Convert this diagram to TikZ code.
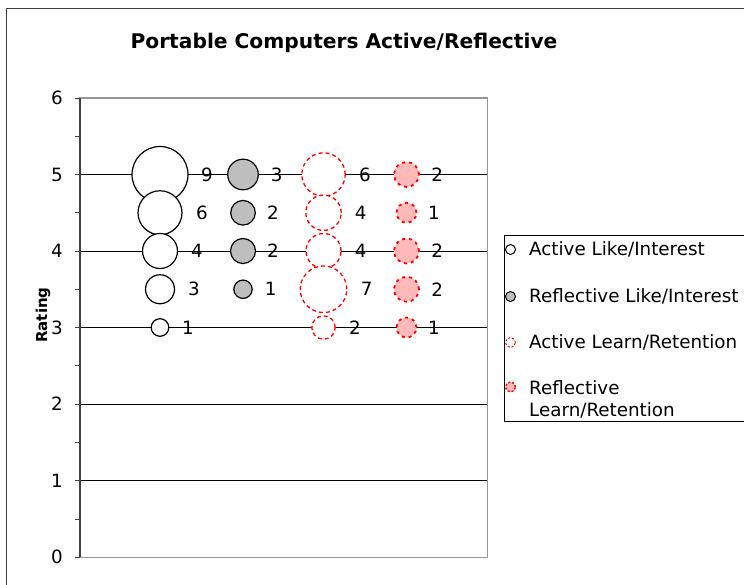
\documentclass[tikz,border=0pt]{standalone}
\usepackage{fontspec}
\setmainfont{DejaVu Sans}
\definecolor{framec}{RGB}{60,60,60}
\definecolor{plotgray}{RGB}{150,150,150}
\definecolor{bubgray}{RGB}{190,190,190}
\definecolor{bubpink}{RGB}{255,185,185}
\definecolor{bubred}{RGB}{255,0,0}
\begin{document}
\begin{tikzpicture}[x=1pt,y=-1pt,
  lab/.style={font=\fontsize{18.3}{22}\selectfont, inner sep=0pt},
  alb/.style={circle, draw=black, line width=1.2pt, fill=white, inner sep=0pt},
  rlb/.style={circle, draw=black, line width=1.2pt, fill=bubgray, inner sep=0pt},
  alrb/.style={circle, draw=bubred, line width=1.3pt, dash pattern=on 4pt off 3pt, fill=white, inner sep=0pt},
  rlrb/.style={circle, draw=bubred, line width=1.8pt, dash pattern=on 3pt off 4pt, fill=bubpink, inner sep=0pt},
  grid/.style={draw=black, line width=1pt}]
\useasboundingbox (0,0) rectangle (744,584);
% outer frame
\draw[framec, line width=1.6pt] (6.5,8.5) rectangle (800,700);
% title
\node[font=\bfseries\fontsize{20.2}{24}\selectfont, inner sep=0pt] (title) at (344,43) {Portable Computers Active/Reflective};
% plot area
\draw[plotgray, line width=1.2pt] (80,98) rectangle (487.3,557.3);
\foreach \v in {1,...,5}
  \draw[grid] (80,{557.3-76.55*\v}) -- (487.3,{557.3-76.55*\v});
\draw[black!75, line width=1.3pt] (80,98) -- (80,557.3);
\foreach \i in {0,...,12}
  \draw[black!75, line width=1pt] (74.5,{557.3-38.275*\i}) -- (80,{557.3-38.275*\i});
\foreach \v in {0,...,6}
  \node[lab, anchor=east] (tick\v) at (63,{557.3-76.55*\v}) {\v};
\node[font=\bfseries\fontsize{15}{18}\selectfont, rotate=90, inner sep=0pt] (ytitle) at (43,315) {Rating};
% Active Like/Interest
\foreach \n/\y/\r/\v/\lx in {a/174.5/28/9/207, b/212.75/22/6/202, c/251/17.5/4/197, d/289.25/14.5/3/194, e/327.5/8.8/1/188}{
  \node[alb, minimum size={2*\r*1pt}] (al\n) at (160,\y) {};
  \node[lab] (all\n) at (\lx,\y) {\v};
}
% Reflective Like/Interest
\foreach \n/\y/\r/\v/\lx in {a/174.5/15.3/3/276.7, b/212.75/12.3/2/273, c/251/12.5/2/273, d/289.25/9.2/1/270.7}{
  \node[rlb, minimum size={2*\r*1pt}] (rl\n) at (243,\y) {};
  \node[lab] (rll\n) at (\lx,\y) {\v};
}
% Active Learn/Retention
\foreach \n/\y/\r/\v/\lx in {a/174.5/21.7/6/365, b/212.75/17.7/4/360.7, c/251/17.5/4/360.7, d/289.25/23.3/7/366.7, e/327.5/11.7/2/355}{
  \node[alrb, minimum size={2*\r*1pt}] (alr\n) at (323.5,\y) {};
  \node[lab] (alrl\n) at (\lx,\y) {\v};
}
% Reflective Learn/Retention
\foreach \n/\y/\r/\v/\lx in {a/174.5/12.5/2/437.3, b/212.75/10/1/434, c/251/12.5/2/437.3, d/289.25/12.5/2/437.3, e/327.5/10/1/434}{
  \node[rlrb, minimum size={2*\r*1pt}] (rlr\n) at (406.5,\y) {};
  \node[lab] (rlrl\n) at (\lx,\y) {\v};
}
% legend
\draw[black, line width=1pt] (504,235) rectangle (800,421.7);
\node[alb, line width=1pt, minimum size=10pt] (lg1) at (510.5,249.5) {};
\node[lab, anchor=west] (lt1) at (529,249.5) {Active Like/Interest};
\node[rlb, line width=1pt, minimum size=10pt] (lg2) at (510.5,296.5) {};
\node[lab, anchor=west] (lt2) at (529,296.5) {Reflective Like/Interest};
\node[alrb, line width=1pt, dash pattern=on 2pt off 2pt, minimum size=10pt] (lg3) at (510.5,342.5) {};
\node[lab, anchor=west] (lt3) at (529,342.5) {Active Learn/Retention};
\node[rlrb, line width=1.5pt, dash pattern=on 2pt off 2pt, minimum size=10pt] (lg4) at (510.5,387) {};
\node[lab, anchor=west, align=left, font=\fontsize{18.3}{22}\selectfont] (lt4) at (529,399.5) {Reflective\\Learn/Retention};
\end{tikzpicture}
\end{document}
